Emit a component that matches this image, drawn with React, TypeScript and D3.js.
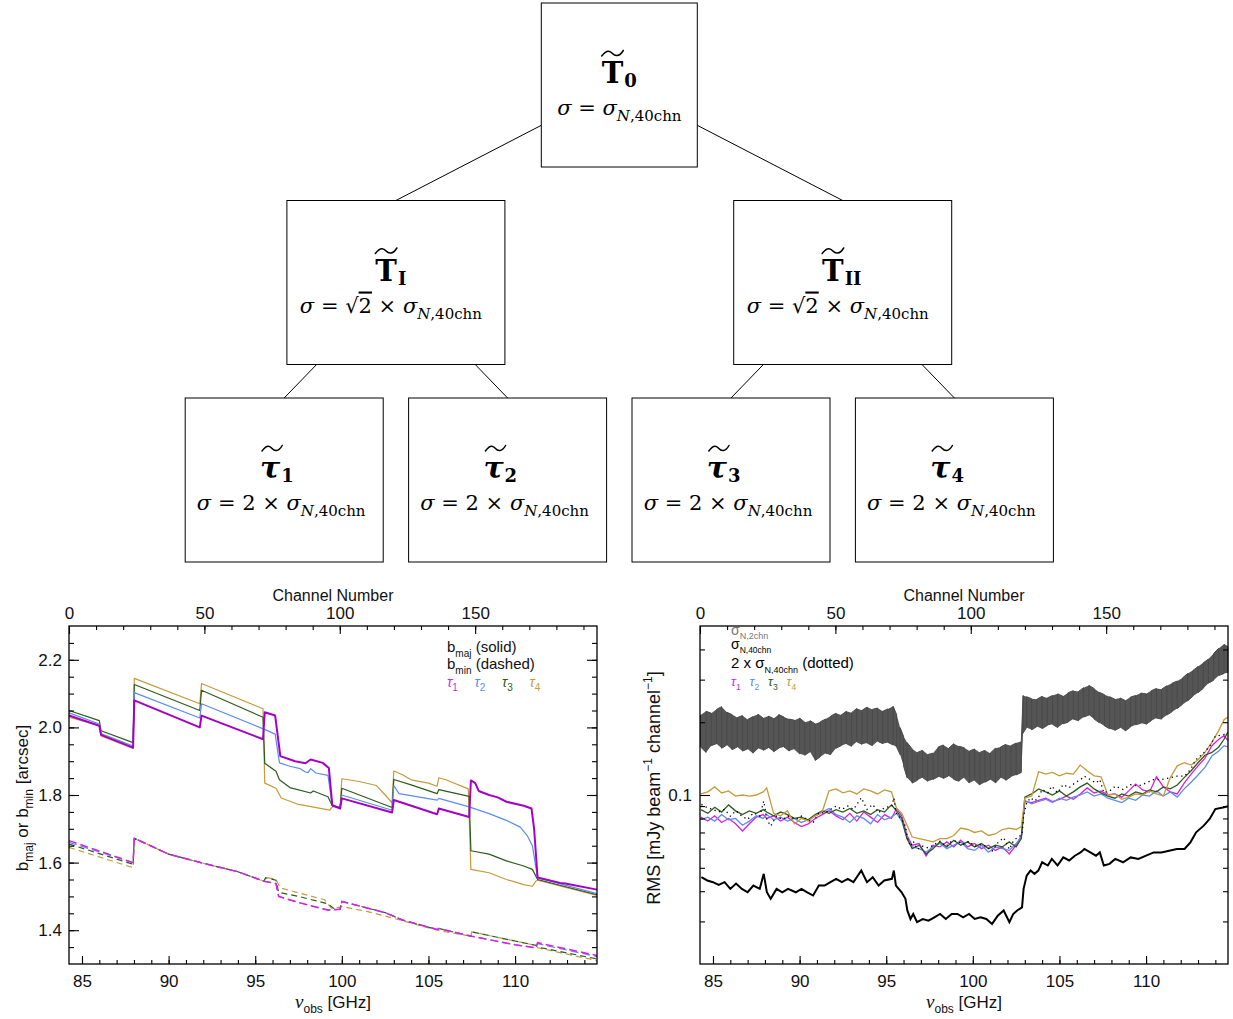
import { useEffect, useRef } from "react";
import * as d3 from "d3";

const SANS = "'Liberation Sans', Arial, sans-serif";
const SERIF = "'DejaVu Serif', serif";

// ---- tree of subsets ----
const treeIds = ["T0", "TI", "TII", "tau1", "tau2", "tau3", "tau4"];
const treeParents = [null, "T0", "T0", "TI", "TI", "TII", "TII"];
const treeSymbols = ["T", "T", "T", "τ", "τ", "τ", "τ"];
const treeSubs = ["0", "I", "II", "1", "2", "3", "4"];
const treeFactors = ["", "√2", "√2", "2", "2", "2", "2"];

// ---- left panel: beam size [GHz, arcsec] ----
const bmajTau1 = [[84.25,2.035],[86.0,2.005],[86.1,1.978],[87.95,1.94],[88.02,2.08],[91.8,2.0],[91.9,2.035],[95.45,1.965],[95.55,2.045],[96.15,2.035],[96.45,1.915],[97.3,1.9],[97.9,1.894],[98.2,1.905],[98.9,1.895],[99.25,1.88],[99.45,1.77],[99.9,1.76],[100.0,1.79],[102.9,1.748],[103.0,1.785],[105.5,1.743],[105.6,1.76],[107.35,1.735],[107.45,1.843],[107.7,1.835],[107.9,1.812],[108.5,1.80],[109.0,1.793],[109.5,1.78],[110.5,1.768],[110.95,1.76],[111.1,1.7],[111.3,1.556],[112.6,1.54],[112.9,1.538],[114.73,1.52]];
const bmajTau2 = [[84.25,2.043],[86.0,2.01],[86.1,1.982],[87.95,1.945],[88.02,2.103],[91.8,2.028],[91.9,2.07],[95.5,1.995],[96.15,1.98],[96.4,1.895],[97.0,1.885],[97.6,1.878],[97.9,1.868],[98.05,1.866],[98.2,1.878],[98.5,1.865],[99.2,1.858],[99.45,1.77],[99.9,1.762],[100.0,1.80],[102.9,1.755],[103.0,1.828],[103.3,1.804],[105.5,1.785],[105.6,1.79],[107.35,1.765],[108.5,1.745],[109.5,1.725],[110.3,1.705],[110.7,1.68],[111.0,1.65],[111.3,1.555],[114.73,1.508]];
const bmajTau3 = [[84.25,2.05],[86.0,2.02],[86.1,1.99],[87.95,1.955],[88.02,2.127],[91.8,2.05],[91.9,2.11],[95.45,2.03],[95.55,1.894],[96.2,1.87],[96.4,1.845],[97.0,1.822],[98.2,1.806],[98.35,1.812],[99.2,1.795],[99.45,1.768],[99.9,1.762],[100.0,1.82],[102.9,1.763],[103.0,1.846],[104.0,1.83],[105.5,1.804],[105.6,1.816],[107.35,1.796],[107.45,1.635],[108.5,1.625],[109.5,1.605],[110.5,1.59],[111.0,1.58],[111.2,1.56],[111.3,1.55],[114.73,1.505]];
const bmajTau4 = [[84.25,2.03],[86.0,2.005],[86.1,1.975],[87.95,1.938],[88.02,2.145],[91.8,2.07],[91.9,2.13],[95.45,2.055],[95.55,1.835],[96.2,1.82],[96.5,1.791],[97.5,1.772],[98.3,1.765],[99.3,1.755],[99.45,1.765],[99.9,1.765],[100.0,1.848],[101.0,1.84],[102.0,1.828],[102.5,1.80],[102.9,1.777],[103.0,1.871],[103.5,1.86],[104.0,1.845],[105.0,1.835],[105.5,1.826],[105.6,1.851],[106.0,1.845],[107.3,1.818],[107.45,1.58],[108.5,1.57],[109.5,1.55],[110.5,1.535],[111.0,1.53],[111.2,1.545],[111.3,1.548],[114.73,1.503]];

const bminTau1 = [[84.25,1.665],[87.95,1.60],[88.02,1.672],[90,1.625],[92,1.598],[94,1.573],[95.5,1.545],[96.2,1.538],[96.35,1.50],[97.5,1.482],[99.2,1.459],[99.9,1.462],[100.0,1.485],[101.0,1.472],[102.5,1.452],[103.5,1.43],[105.5,1.402],[105.6,1.405],[107.5,1.382],[110.0,1.357],[111.2,1.348],[111.3,1.363],[114.73,1.325]];
const bminTau2 = [[84.25,1.66],[87.95,1.60],[88.02,1.672],[90,1.625],[92,1.598],[94,1.573],[95.5,1.545],[96.2,1.538],[96.35,1.50],[97.5,1.482],[99.2,1.46],[99.9,1.462],[100.0,1.485],[101.0,1.472],[102.5,1.452],[103.5,1.43],[105.5,1.402],[105.6,1.405],[107.5,1.382],[110.0,1.357],[111.2,1.348],[111.3,1.36],[114.73,1.322]];
const bminTau3 = [[84.25,1.655],[87.95,1.595],[88.02,1.672],[90,1.625],[92,1.598],[94,1.573],[95.5,1.545],[95.6,1.555],[96.2,1.548],[96.35,1.512],[97.5,1.50],[99.2,1.478],[99.6,1.462],[99.9,1.462],[100.0,1.485],[101.0,1.472],[102.5,1.452],[103.5,1.43],[105.5,1.402],[105.6,1.405],[107.45,1.382],[107.5,1.395],[110.0,1.368],[111.2,1.355],[111.3,1.35],[114.73,1.315]];
const bminTau4 = [[84.25,1.645],[87.95,1.585],[88.02,1.672],[90,1.625],[92,1.598],[94,1.573],[95.5,1.545],[95.6,1.557],[96.2,1.55],[96.45,1.525],[99.0,1.49],[99.4,1.465],[99.9,1.468],[100.0,1.47],[101.5,1.455],[103.0,1.435],[105.5,1.40],[107.45,1.382],[107.5,1.395],[110.0,1.368],[111.2,1.355],[111.3,1.348],[114.73,1.31]];

// ---- right panel: RMS [mJy/beam/channel] ----
// sigma_N,2chn noise band (upper / lower envelope)
const grayFreq = [84.28,84.6,84.9,85.2,85.5,85.8,86.1,86.4,86.7,87.0,87.3,87.6,87.9,88.2,88.5,88.8,89.1,89.4,89.7,90.0,90.3,90.6,90.9,91.2,91.5,91.8,92.1,92.4,92.7,93.0,93.3,93.6,93.9,94.2,94.5,94.8,95.1,95.4,95.6,95.8,96.0,96.2,96.5,96.8,97.1,97.4,97.7,98.0,98.3,98.6,98.9,99.2,99.5,99.8,100.1,100.4,100.7,101.0,101.3,101.6,101.9,102.2,102.5,102.8,102.9,103.1,103.4,103.7,104.0,104.3,104.6,104.9,105.2,105.5,105.8,106.1,106.4,106.7,107.0,107.3,107.6,107.9,108.2,108.5,108.8,109.1,109.4,109.7,110.0,110.3,110.6,110.9,111.2,111.5,111.8,112.1,112.4,112.7,113.0,113.3,113.6,113.9,114.2,114.5,114.72];
const grayHi = [.214,.222,.218,.226,.232,.220,.215,.209,.213,.205,.211,.216,.208,.212,.207,.215,.210,.206,.204,.208,.200,.203,.197,.201,.206,.212,.218,.214,.222,.219,.228,.224,.231,.226,.229,.222,.227,.233,.215,.190,.175,.165,
  .155,.150,.153,.147,.149,.158,.161,.156,.163,.159,.157,.152,.155,.150,.153,.149,.156,.158,.162,.160,.164,.167,.258,
  .255,.250,.249,.256,.252,.258,.262,.256,.265,.270,.268,.278,.284,.276,.266,.260,.255,.249,.252,.246,.254,.258,.264,.262,.270,.276,.274,.283,.290,.296,.305,.318,.327,.340,.352,.365,.385,.405,.420,.410];
const grayLo = [.158,.150,.160,.163,.156,.161,.154,.158,.152,.155,.149,.156,.153,.157,.151,.156,.158,.152,.155,.148,.146,.151,.139,.144,.149,.147,.156,.160,.163,.159,.166,.162,.164,.160,.167,.163,.165,.161,.158,.147,.132,.118,
  .112,.115,.118,.114,.116,.119,.117,.120,.116,.114,.118,.112,.115,.110,.113,.116,.112,.118,.115,.119,.121,.124,.180,
  .190,.186,.192,.188,.194,.196,.190,.197,.200,.206,.203,.210,.214,.206,.199,.193,.188,.185,.190,.184,.191,.195,.198,.196,.203,.208,.206,.214,.221,.228,.237,.245,.256,.265,.276,.290,.298,.312,.318,.320];

// sigma_N,40chn
const rms40Freq = [84.33,84.67,85.0,85.33,85.67,86.0,86.33,86.67,87.0,87.33,87.7,87.93,88.11,88.33,88.67,89.0,89.33,89.78,90.11,90.44,90.78,91.11,91.44,91.78,92.11,92.44,92.78,93.11,93.56,93.89,94.22,94.56,94.89,95.33,95.44,95.56,95.89,96.11,96.22,96.4,96.56,96.78,97.11,97.44,97.78,98.11,98.44,98.78,99.11,99.44,99.78,100.11,100.44,100.78,101.11,101.44,101.78,102.11,102.33,102.56,102.84,102.93,103.11,103.33,103.56,103.78,104.0,104.33,104.56,104.89,105.22,105.56,105.89,106.22,106.44,106.78,107.11,107.33,107.56,107.89,108.22,108.67,109.11,109.56,110.0,110.44,110.89,111.33,111.78,112.22,112.56,112.89,113.33,113.67,114.0,114.44,114.73];
const rms40 = [.0457,.0443,.0436,.0425,.0436,.0409,.0430,.0409,.0396,.0422,.0409,.0472,.0396,.0372,.0409,.0396,.0409,.0396,.0409,.0396,.0384,.0422,.0422,.0436,.0450,.0436,.0450,.0436,.0487,.0436,.0457,.0422,.0443,.0450,.0487,.0422,.0396,.0372,.0333,.0307,.0322,.0298,.0307,.0302,.0312,.0322,.0307,.0322,.0322,.0312,.0322,.0307,.0312,.0307,.0293,.0317,.0333,.0298,.0322,.0333,.0343,.0409,.0464,.0487,.0472,.0487,.0527,.0511,.0544,.0511,.0552,.0536,.0561,.0579,.0598,.0579,.0561,.0579,.0511,.0519,.0544,.0527,.0552,.0544,.0561,.0579,.0579,.0588,.0598,.0598,.0637,.0701,.0747,.0796,.0875,.0888,.0898];

// tau_1..tau_4 noise
const tauFreq = [84.3,84.7,85.1,85.5,85.9,86.3,86.7,87.1,87.5,87.9,88.1,88.5,88.9,89.3,89.7,90.1,90.5,90.9,91.3,91.7,92.1,92.5,92.9,93.3,93.7,94.1,94.5,94.9,95.3,95.6,95.9,96.2,96.5,96.9,97.3,97.7,98.1,98.5,98.9,99.3,99.7,100.1,100.5,100.9,101.3,101.7,102.1,102.5,102.8,103.0,103.4,103.8,104.2,104.6,105.0,105.4,105.8,106.2,106.6,107.0,107.4,107.8,108.2,108.6,109.0,109.4,109.8,110.2,110.6,111.0,111.4,111.8,112.2,112.6,113.0,113.4,113.8,114.2,114.5,114.72];
const rmsTau1 = [.081,.078,.082,.077,.080,.076,.071,.076,.081,.083,
  .080,.082,.078,.081,.077,.074,.076,.080,.083,.086,.082,.079,.084,.078,.085,.081,.077,.083,.080,
  .088,.082,.068,.062,
  .063,.056,.062,.061,.064,.061,.065,.061,.063,.060,.062,.059,.061,.057,.062,
  .068,.094,
  .093,.095,.097,.094,.096,.099,.096,.101,.107,.102,.104,.100,.101,.098,.104,.111,.105,.103,.119,.108,.103,.101,.112,.122,.132,.142,.160,.170,
  .176,.168];
const rmsTau2 = [.079,.081,.078,.083,.079,.080,.075,.078,.082,.080,
  .083,.079,.081,.078,.080,.077,.079,.082,.085,.088,.083,.081,.077,.082,.080,.076,.083,.079,.081,
  .084,.078,.066,.061,
  .060,.058,.061,.063,.060,.062,.064,.060,.059,.062,.058,.061,.060,.059,.063,
  .067,.095,
  .092,.094,.096,.093,.097,.095,.098,.100,.103,.099,.101,.097,.095,.093,.097,.095,.100,.099,.104,.099,.103,.098,.106,.113,.121,.130,.145,.152,
  .160,.158];
const rmsTau3 = [.087,.084,.089,.085,.091,.086,.083,.086,.084,.087,
  .085,.082,.085,.083,.080,.081,.079,.083,.086,.084,.087,.085,.088,.084,.086,.083,.087,.085,.091,
  .086,.080,.066,.060,
  .062,.057,.060,.064,.061,.065,.062,.064,.061,.063,.060,.062,.061,.064,.061,
  .066,.098,
  .101,.106,.103,.100,.104,.099,.103,.108,.112,.106,.102,.099,.097,.101,.099,.103,.101,.105,.103,.108,.106,.110,.118,.126,.136,.146,.150,.158,
  .170,.182];
const rmsTau4 = [.101,.103,.108,.102,.104,.099,.100,.099,.100,.103,
  .107,.084,.082,.086,.076,.080,.078,.082,.085,.104,.106,.102,.104,.101,.106,.104,.101,.105,.103,
  .088,.084,.075,.067,
  .066,.065,.064,.066,.066,.068,.073,.072,.070,.071,.068,.069,.072,.073,.072,
  .074,.097,
  .099,.125,.122,.124,.120,.123,.122,.133,.126,.120,.119,.100,.101,.096,.098,.101,.100,.104,.101,.099,.118,.132,.136,.133,.140,.150,.165,.185,
  .205,.210];

const tauColors = ["#dc1ee4", "#5b8cf2", "#2e5a1e", "#c49b3c"];
const beamColors = ["#a500c6", "#5b8cf2", "#2e5a1e", "#c49b3c"];

const freqTicks = [85, 90, 95, 100, 105, 110];
const chanTicks = [0, 50, 100, 150];
const beamTicks = [1.4, 1.6, 1.8, 2.0, 2.2];
const rmsTicks = [0.1];

function rich(text: any, parts: any[], size: number) {
  let off = 0;
  parts.forEach((p) => {
    const target = p.sub ? size * 0.3 : p.sup ? -size * 0.45 : 0;
    const ts = text.append("tspan").attr("dy", target - off).text(p.t);
    off = target;
    const fs = p.fs || (p.sub || p.sup ? size * 0.68 : null);
    if (fs) ts.attr("font-size", fs);
    if (p.it) ts.attr("font-style", "italic");
    if (p.fill) ts.attr("fill", p.fill);
    if (p.dx) ts.attr("dx", p.dx);
    if (p.ff) ts.attr("font-family", p.ff);
    if (p.over) ts.style("text-decoration", "overline");
  });
}

function drawTree(svg: any) {
  const nodes = treeIds.map((id, i) => ({ id, parent: treeParents[i], sym: treeSymbols[i], sub: treeSubs[i], fac: treeFactors[i] }));
  const root: any = d3.stratify().id((d: any) => d.id).parentId((d: any) => d.parent)(nodes);
  d3.tree().nodeSize([223.4, 197.5]).separation(() => 1)(root);
  const boxW = [156, 218, 198], boxH = 164;
  const cx = (n: any) => n.x + 619.3;
  const top = (n: any) => n.y + 3;
  const g = svg.append("g");

  g.selectAll("line.link").data(root.links()).join("line")
    .attr("x1", (l: any) => cx(l.target)).attr("y1", (l: any) => top(l.target))
    .attr("x2", (l: any) => cx(l.source)).attr("y2", (l: any) => top(l.source) + boxH / 2)
    .attr("stroke", "#000").attr("stroke-width", 1);

  root.each((n: any) => {
    const w = boxW[n.depth];
    const ng = g.append("g");
    ng.append("rect").attr("x", cx(n) - w / 2).attr("y", top(n)).attr("width", w).attr("height", boxH)
      .attr("fill", "#fff").attr("stroke", "#000").attr("stroke-width", 1);
    const greek = n.data.sym === "τ";
    const endX = cx(n) + [4, 1, -4][n.depth];
    const sym = ng.append("text").attr("x", endX).attr("y", top(n) + 80).attr("text-anchor", "end")
      .attr("font-family", SERIF).attr("font-weight", "bold").attr("font-size", greek ? 30 : 29)
      .attr("font-style", greek ? "italic" : "normal").text(n.data.sym);
    const sw = (sym.node() as SVGTextElement).getComputedTextLength();
    ng.append("text").attr("x", endX + 1).attr("y", top(n) + 84)
      .attr("font-family", SERIF).attr("font-weight", "bold").attr("font-size", 18).text(n.data.sub);
    // wide tilde over the symbol
    const x0 = endX - sw + (greek ? 2 : 0), x1 = endX + (greek ? 2 : 0), wt = x1 - x0, ty = top(n) + 47;
    ng.append("path")
      .attr("d", `M${x0},${ty + 6} C${x0 + wt * 0.25},${ty - 1} ${x0 + wt * 0.4},${ty + 1} ${x0 + wt * 0.5},${ty + 3.5} S${x0 + wt * 0.8},${ty + 7.5} ${x1},${ty + 0.5}`)
      .attr("fill", "none").attr("stroke", "#000").attr("stroke-width", 1.5).attr("stroke-linecap", "round");

    const t = ng.append("text").attr("x", cx(n) - [0, 5, 3][n.depth]).attr("y", top(n) + 112)
      .attr("text-anchor", "middle").attr("font-family", SERIF).attr("font-size", 21);
    const parts: any[] = [{ t: "σ", it: true }, { t: " = " }];
    if (n.data.fac === "√2") parts.push({ t: "√" }, { t: "2", over: true }, { t: " × " });
    else if (n.data.fac) parts.push({ t: n.data.fac }, { t: " × " });
    parts.push({ t: "σ", it: true }, { t: "N", sub: true, it: true, fs: 15 }, { t: ",40chn", sub: true, fs: 15 });
    rich(t, parts, 21);
  });
}

function axisStyle(sel: any) {
  sel.select(".domain").remove();
  sel.selectAll("line").attr("stroke", "#000").attr("stroke-width", 1.1);
  sel.selectAll("text").attr("fill", "#111").attr("font-family", SANS).attr("font-size", 17);
}

function frameAxes(svg: any, x: any, ch: any, y: any, yMajor: number[], yMinor: number[], yFmt: any, yPad: number) {
  const [l, r] = x.range();
  const [b, t] = y.range();
  const g = svg.append("g");
  const none = () => "";
  g.append("g").attr("transform", `translate(0,${b})`)
    .call(d3.axisBottom(x).tickValues(d3.range(85, 115)).tickSize(-4).tickFormat(none)).call(axisStyle);
  g.append("g").attr("transform", `translate(0,${b})`)
    .call(d3.axisBottom(x).tickValues(freqTicks).tickSize(-8).tickPadding(11).tickFormat(d3.format("d"))).call(axisStyle);
  g.append("g").attr("transform", `translate(0,${t})`)
    .call(d3.axisTop(ch).tickValues(d3.range(10, 200, 10)).tickSize(-4).tickFormat(none)).call(axisStyle);
  g.append("g").attr("transform", `translate(0,${t})`)
    .call(d3.axisTop(ch).tickValues(chanTicks).tickSize(-8).tickPadding(7).tickFormat(d3.format("d"))).call(axisStyle);
  g.append("g").attr("transform", `translate(${l},0)`)
    .call(d3.axisLeft(y).tickValues(yMinor).tickSize(-5).tickFormat(none)).call(axisStyle);
  g.append("g").attr("transform", `translate(${l},0)`)
    .call(d3.axisLeft(y).tickValues(yMajor).tickSize(-10).tickPadding(yPad).tickFormat(yFmt)).call(axisStyle);
  g.append("g").attr("transform", `translate(${r},0)`)
    .call(d3.axisRight(y).tickValues(yMinor).tickSize(-5).tickFormat(none)).call(axisStyle);
  g.append("g").attr("transform", `translate(${r},0)`)
    .call(d3.axisRight(y).tickValues(yMajor).tickSize(-10).tickFormat(none)).call(axisStyle);
  svg.append("rect").attr("x", l).attr("y", t).attr("width", r - l).attr("height", b - t)
    .attr("fill", "none").attr("stroke", "#000").attr("stroke-width", 1.3);

  const cxm = (l + r) / 2;
  svg.append("text").attr("x", cxm).attr("y", 601).attr("text-anchor", "middle")
    .attr("font-family", SANS).attr("font-size", 16).attr("fill", "#111").text("Channel Number");
  const xt = svg.append("text").attr("x", cxm).attr("y", 1008).attr("text-anchor", "middle")
    .attr("font-family", SANS).attr("font-size", 17).attr("fill", "#111");
  rich(xt, [{ t: "ν", it: true, ff: "'Liberation Serif', serif", fs: 19 }, { t: "obs", sub: true, fs: 12 }, { t: " [GHz]" }], 17);
}

function drawBeamPanel(svg: any) {
  const x = d3.scaleLinear().domain([84.25, 114.73]).range([69, 597]);
  const ch = d3.scaleLinear().domain([0, 195]).range([69, 597]);
  const y = d3.scaleLinear().domain([1.3, 2.3]).range([964, 626]);
  const line = d3.line().x((d: any) => x(d[0])).y((d: any) => y(d[1]));
  const g = svg.append("g");
  const mins = [bminTau1, bminTau2, bminTau3, bminTau4];
  const majs = [bmajTau1, bmajTau2, bmajTau3, bmajTau4];
  [3, 2, 1, 0].forEach((i) => {
    g.append("path").attr("d", line(mins[i] as any)).attr("fill", "none")
      .attr("stroke", i === 0 ? tauColors[0] : beamColors[i]).attr("stroke-width", i === 0 ? 1.5 : 1.2)
      .attr("stroke-dasharray", i < 2 ? "8,4" : "6,4");
  });
  [3, 2, 1, 0].forEach((i) => {
    g.append("path").attr("d", line(majs[i] as any)).attr("fill", "none")
      .attr("stroke", beamColors[i]).attr("stroke-width", i === 0 ? 2 : 1.2).attr("stroke-linejoin", "round");
  });
  frameAxes(svg, x, ch, y, beamTicks, d3.range(27, 46).map((k) => k * 0.05), d3.format(".1f"), 7);

  const yl = svg.append("text").attr("transform", "translate(28,798) rotate(-90)").attr("text-anchor", "middle")
    .attr("font-family", SANS).attr("font-size", 17).attr("fill", "#111");
  rich(yl, [{ t: "b" }, { t: "maj", sub: true, fs: 12 }, { t: " or  b" }, { t: "min", sub: true, fs: 12 }, { t: " [arcsec]" }], 17);

  const lg = svg.append("g").attr("font-family", SANS).attr("fill", "#111");
  rich(lg.append("text").attr("x", 447).attr("y", 652).attr("font-size", 15), [{ t: "b" }, { t: "maj", sub: true, fs: 10 }, { t: " (solid)" }], 15);
  rich(lg.append("text").attr("x", 447).attr("y", 669).attr("font-size", 15), [{ t: "b" }, { t: "min", sub: true, fs: 10 }, { t: " (dashed)" }], 15);
  tauColors.forEach((c, i) => {
    rich(lg.append("text").attr("x", 447 + i * 27.5).attr("y", 687).attr("font-size", 14).attr("fill", c),
      [{ t: "τ", it: true }, { t: String(i + 1), sub: true, fs: 10 }], 14);
  });
}

function drawRmsPanel(svg: any) {
  const x = d3.scaleLinear().domain([84.25, 114.73]).range([700, 1228]);
  const ch = d3.scaleLinear().domain([0, 195]).range([700, 1228]);
  const y = d3.scaleLog().domain([0.02, 0.5]).range([964, 626]);
  const g = svg.append("g");

  // noise band, filled plus a zigzag stroke between the envelopes for texture
  const band = grayFreq.map((f, i) => [f, grayLo[i], grayHi[i]]);
  g.append("path").attr("d", d3.area().x((d: any) => x(d[0])).y0((d: any) => y(d[1])).y1((d: any) => y(d[2]))(band as any))
    .attr("fill", "#555").attr("stroke", "none");
  const zig = band.flatMap((d, i) => (i % 2 ? [[d[0], d[1]], [d[0], d[2]]] : [[d[0], d[2]], [d[0], d[1]]]));
  g.append("path").attr("d", d3.line().x((d: any) => x(d[0])).y((d: any) => y(d[1]))(zig as any))
    .attr("fill", "none").attr("stroke", "#4a4a4a").attr("stroke-width", 1);

  const line = d3.line().x((d: any) => x(d[0])).y((d: any) => y(d[1]));
  const black = rms40Freq.map((f, i) => [f, rms40[i]]);
  g.append("path").attr("d", line(black as any)).attr("fill", "none").attr("stroke", "#000").attr("stroke-width", 2);

  [rmsTau1, rmsTau2, rmsTau3, rmsTau4].forEach((vals, i) => {
    const pts = tauFreq.map((f, k) => [f, vals[k]]);
    g.append("path").attr("d", line(pts as any)).attr("fill", "none").attr("stroke", tauColors[i]).attr("stroke-width", 1.3);
  });
  // 2 x sigma_N,40chn
  const dotted = rms40Freq.map((f, i) => [f, 2 * rms40[i]]);
  g.append("path").attr("d", line(dotted as any)).attr("fill", "none").attr("stroke", "#000")
    .attr("stroke-width", 1.3).attr("stroke-dasharray", "1.3,3.5");

  const minor = [0.03, 0.04, 0.05, 0.06, 0.07, 0.08, 0.09, 0.2, 0.3, 0.4];
  frameAxes(svg, x, ch, y, rmsTicks, minor, () => "0.1", 8);

  const yl = svg.append("text").attr("transform", "translate(660,788) rotate(-90)").attr("text-anchor", "middle")
    .attr("font-family", SANS).attr("font-size", 18).attr("fill", "#111");
  rich(yl, [{ t: "RMS [mJy beam" }, { t: "−1", sup: true, fs: 12 }, { t: " channel" }, { t: "−1", sup: true, fs: 12 }, { t: "]" }], 18);

  const lg = svg.append("g").attr("font-family", SANS);
  rich(lg.append("text").attr("x", 731).attr("y", 635).attr("font-size", 14).attr("fill", "#777"),
    [{ t: "σ" }, { t: "N,2chn", sub: true, fs: 9 }], 14);
  rich(lg.append("text").attr("x", 731).attr("y", 649).attr("font-size", 14).attr("fill", "#000"),
    [{ t: "σ" }, { t: "N,40chn", sub: true, fs: 8.5 }], 14);
  rich(lg.append("text").attr("x", 731).attr("y", 668).attr("font-size", 15).attr("fill", "#000"),
    [{ t: "2  x  " }, { t: "σ" }, { t: "N,40chn", sub: true, fs: 9 }, { t: "  (dotted)" }], 15);
  tauColors.forEach((c, i) => {
    rich(lg.append("text").attr("x", 731 + i * 18.5).attr("y", 686).attr("font-size", 13).attr("fill", c),
      [{ t: "τ", it: true }, { t: String(i + 1), sub: true, fs: 8.5 }], 13);
  });
}

export default function App() {
  const ref = useRef<SVGSVGElement>(null);
  useEffect(() => {
    const svg = d3.select(ref.current);
    svg.selectAll("*").remove();
    drawTree(svg);
    drawBeamPanel(svg);
    drawRmsPanel(svg);
  }, []);
  return (
    <svg ref={ref} width={1233} height={1019}
      style={{ position: "absolute", left: 0, top: 0, background: "#fff" }} />
  );
}
